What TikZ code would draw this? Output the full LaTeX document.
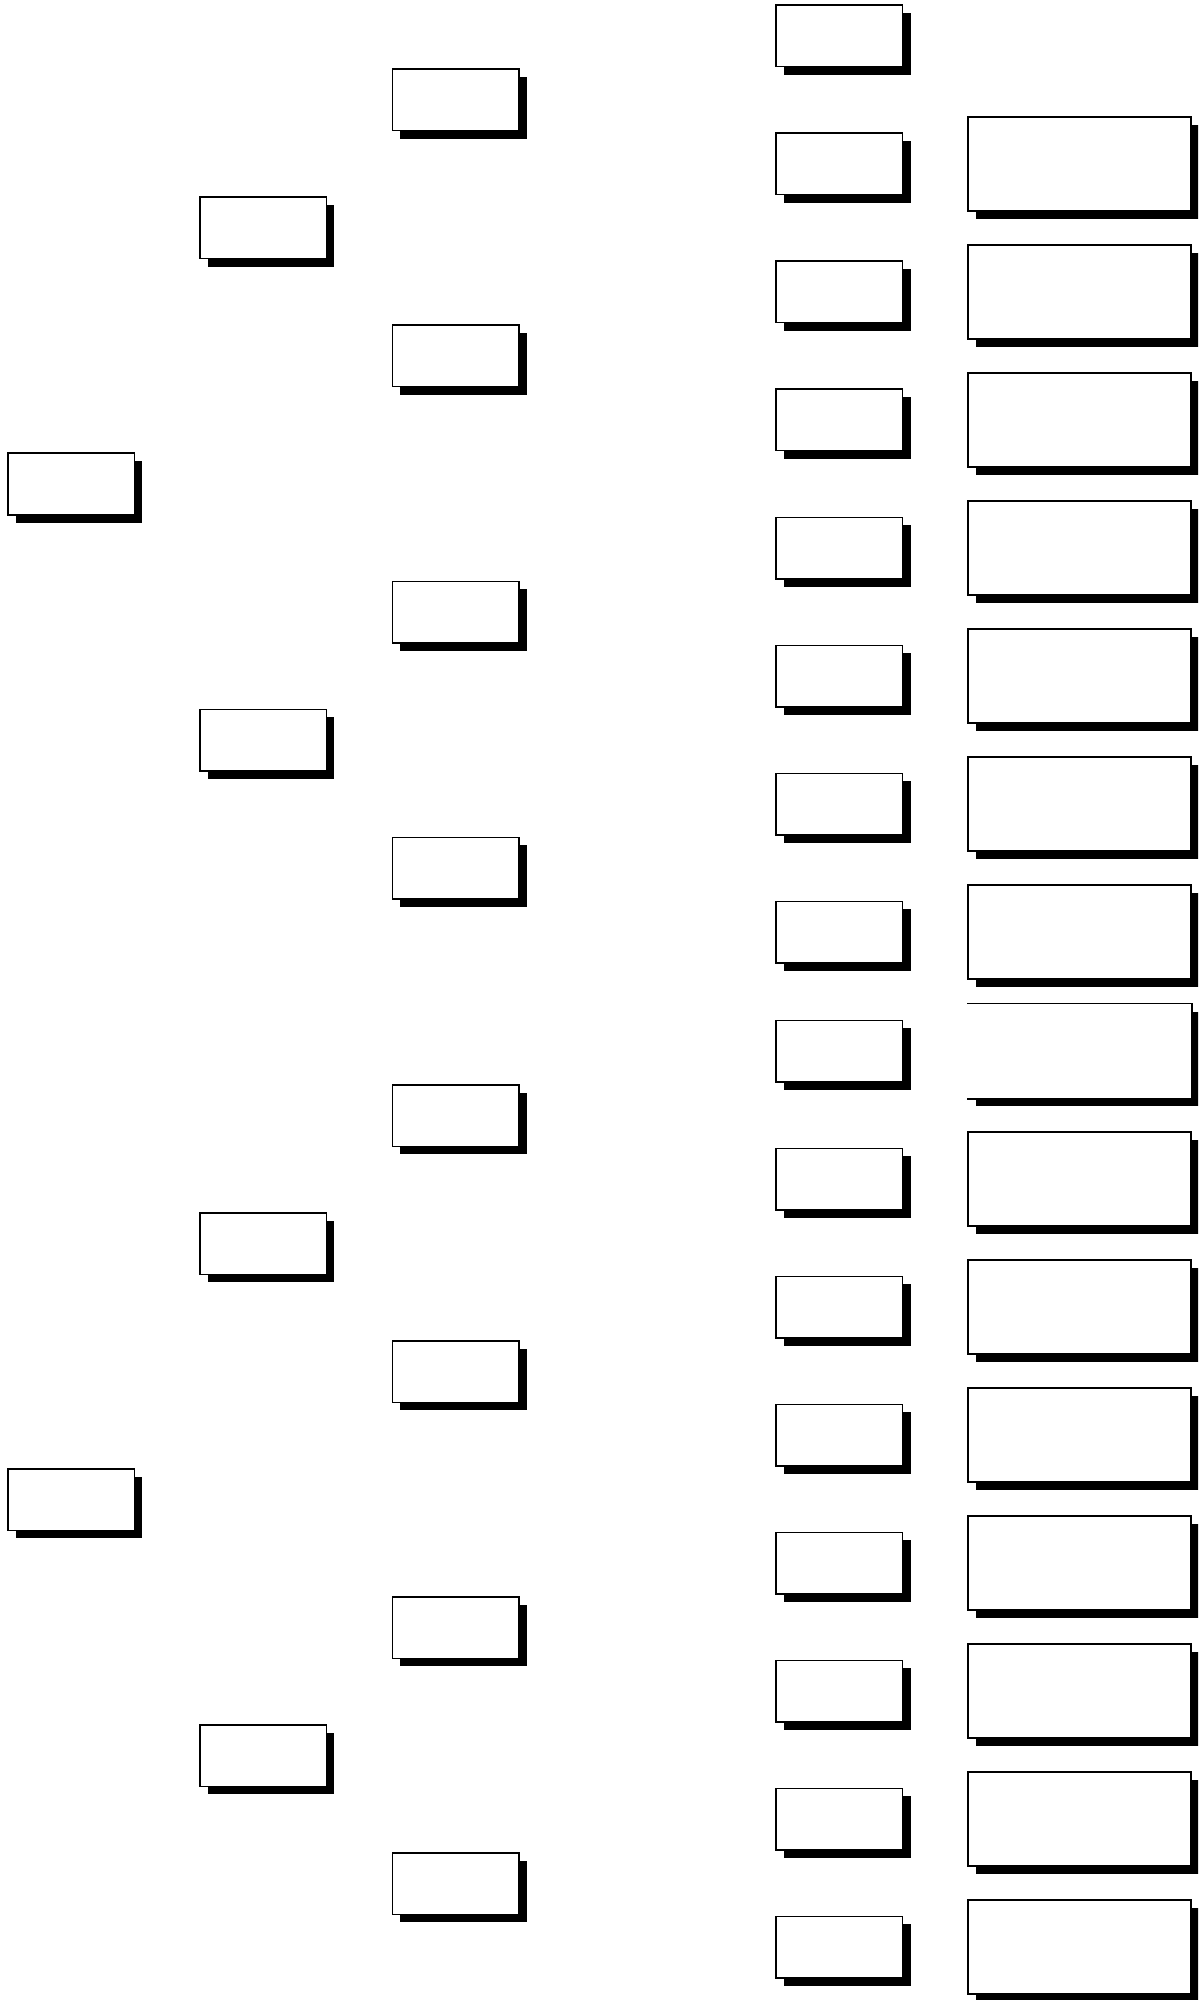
\documentclass[tikz,border=0pt]{standalone}
\usetikzlibrary{shadows}
\tikzset{
  boxbase/.style={rectangle, inner sep=0pt, fill=white, line width=0.75pt,
    drop shadow={shadow xshift=4pt, shadow yshift=-4pt, fill=black, opacity=1}},
  smallbox/.style={boxbase, draw=black, minimum width=63.25pt, minimum height=30.75pt},
  widedims/.style={boxbase, minimum width=111.5pt, minimum height=47pt},
  widebox/.style={widedims, draw=black},
  openbox/.style={widedims, draw=none},
  openedge/.style={line width=0.75pt, draw=black}
}
\begin{document}
\begin{tikzpicture}[x=0.5pt, y=-0.5pt]
  \path[use as bounding box, clip] (0,0) rectangle (1198,2000);
  % column 1
  \node[smallbox] (a0) at (71,484) {};
  \node[smallbox] (a1) at (71,1499.5) {};
  % column 2
  \node[smallbox] (b0) at (263,228) {};
  \node[smallbox] (b1) at (263,740) {};
  \node[smallbox] (b2) at (263,1243.5) {};
  \node[smallbox] (b3) at (263,1755.5) {};
  % column 3
  \node[smallbox] (c0) at (455.5,100) {};
  \node[smallbox] (c1) at (455.5,356) {};
  \node[smallbox] (c2) at (455.5,612) {};
  \node[smallbox] (c3) at (455.5,868) {};
  \node[smallbox] (c4) at (455.5,1115.5) {};
  \node[smallbox] (c5) at (455.5,1371.5) {};
  \node[smallbox] (c6) at (455.5,1627.5) {};
  \node[smallbox] (c7) at (455.5,1883.5) {};
  % column 4
  \foreach \k in {0,...,15} {
    \pgfmathsetmacro\cy{36+128*\k-(\k>7)*9}
    \node[smallbox] (d\k) at (839.3,\cy) {};
  }
  % wide column
  \foreach \k in {1,...,7,9,10,...,15} {
    \pgfmathsetmacro\cy{36+128*\k-(\k>7)*9}
    \node[widebox] (w\k) at (1079.5,\cy) {};
  }
  \node[openbox] (w8) at (1079.5,1051) {};
  \draw[openedge] (w8.north west) -- (w8.north east) -- (w8.south east) -- (w8.south west);
\end{tikzpicture}
\end{document}
